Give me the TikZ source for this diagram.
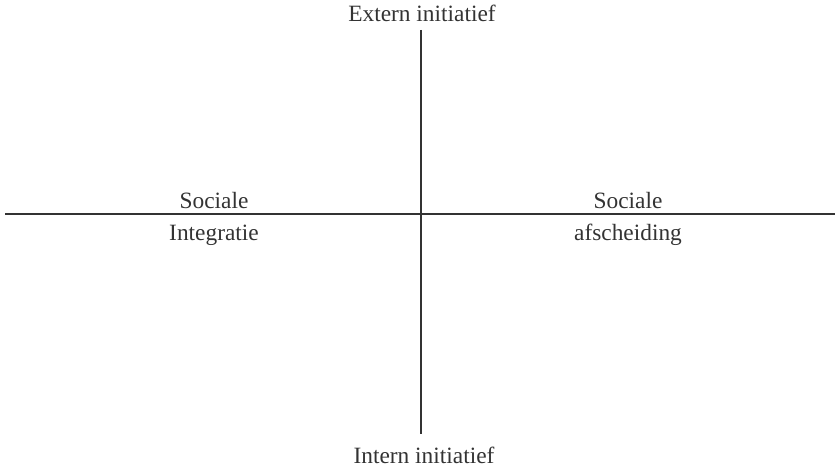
\documentclass[tikz,border=0pt]{standalone}
\usepackage{fontspec}
\setmainfont{Liberation Serif}
\usetikzlibrary{positioning}

\begin{document}
\begin{tikzpicture}[x=0.02cm,y=-0.02cm,
    axis/.style={line width=0.7pt, black!80},
    lbl/.style={font=\fontsize{13.3}{16}\selectfont, inner sep=0pt, anchor=base, black!80}]
                \useasboundingbox (0,0) rectangle (835,466);
                % Axes
                \coordinate (top) at (421,30);
                \coordinate (bottom) at (421,434);
                \coordinate (left) at (5,214);
                \coordinate (right) at (835,214);
                \draw[axis] (top) -- (bottom);
                \draw[axis] (left) -- (right);
                % Labels
                \node[lbl] (extern) at (422,22) {Extern initiatief};
                \node[lbl] (intern) at (424,463) {Intern initiatief};
                \node[lbl] (integr1) at (214,208) {Sociale};
                \node[lbl] (integr2) at (214,240) {Integratie};
                \node[lbl] (afsch1) at (628,208) {Sociale};
                \node[lbl] (afsch2) at (628,240) {afscheiding};
\end{tikzpicture}
\end{document}
